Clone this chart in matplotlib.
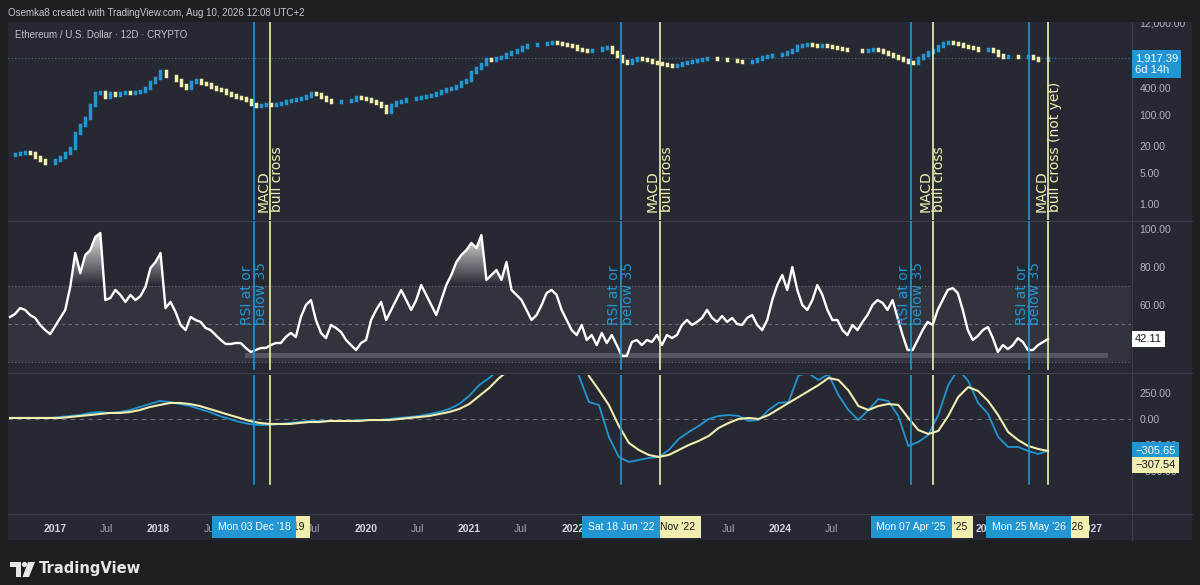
import numpy as np
import matplotlib
matplotlib.use('Agg')
import matplotlib.pyplot as plt
from matplotlib.patches import Rectangle, Polygon, Circle
from matplotlib.path import Path
from matplotlib.colors import LinearSegmentedColormap
from matplotlib.transforms import Affine2D, blended_transform_factory
from matplotlib.ticker import NullLocator, NullFormatter

W, H = 1200, 585

# ---- values: 12D ETHUSD bars, dates as fractional years ----
first_bar, last_bar = 2016.566, 2026.585

close = [12.5, 13.1, 13.8, 14.6, 13.8, 11.3, 9.6, 8.3, 8.3, 9.6,
         11.3, 13.8, 18, 39, 59, 85, 166, 309, 325, 251,
         309, 279, 309, 325, 309, 325, 342, 400, 546, 671,
         964, 744, 744, 605, 467, 400, 546, 605, 518, 492,
         421, 380, 361, 309, 279, 251, 238, 215, 175, 158,
         166, 175, 166, 175, 184, 204, 215, 227, 238, 264,
         309, 293, 251, 215, 194, 194, 204, 204, 215, 251,
         238, 227, 204, 184, 158, 116, 166, 194, 204, 227,
         227, 238, 251, 264, 279, 309, 342, 380, 400, 443,
         546, 605, 916, 1125, 1385, 1794, 1703, 1888, 1990, 2323,
         2576, 2857, 3336, 3700, 3700, 3900, 3900, 4108, 4325, 4108,
         3900, 3700, 3516, 3008, 2857, 2711, 2857, 2857, 3168, 3336,
         2576, 2095, 1617, 1459, 1703, 1888, 1794, 1703, 1535, 1459,
         1385, 1314, 1248, 1314, 1459, 1535, 1617, 1703, 1794, 1888,
         1888, 1794, 1794, 1703, 1703, 1617, 1535, 1535, 1617, 1794,
         1990, 2095, 2208, 2208, 2323, 2576, 2857, 3516, 3700, 3900,
         3700, 3516, 3700, 3516, 3336, 3168, 3008, 2857, 2857, 2857,
         2711, 2857, 3008, 2857, 2576, 2323, 2095, 1888, 1703, 1535,
         1459, 1888, 2208, 2576, 2857, 3516, 4108, 4325, 4108, 3900,
         3516, 3336, 3168, 2857, 2857, 3008, 2711, 2208, 1990, 2095,
         2095, 1990, 1990, 2095, 1888, 1703, 1703, 1917.39]

rsi = [53.7, 55.3, 58.4, 57.4, 54.7, 53.2, 49.5, 46.8, 44.7, 48.9,
       53.2, 57.4, 69.5, 87.4, 76.8, 86.3, 88.9, 95.8, 97.9, 62.6,
       63.7, 67.9, 65.3, 61.6, 65.3, 62.6, 64.7, 69.5, 79.5, 82.6,
       87.4, 58.4, 61.6, 56.3, 49.5, 46.8, 53.7, 52.1, 51.1, 47.9,
       46.8, 44.2, 41.6, 39.5, 39.5, 40.0, 40.0, 37.4, 35.3, 36.3,
       37.4, 37.4, 38.9, 40.0, 40.0, 43.2, 45.3, 43.2, 53.7, 60.0,
       62.6, 52.1, 45.3, 42.6, 49.5, 47.9, 45.8, 41.6, 38.9, 36.3,
       40.0, 41.6, 52.1, 57.4, 61.6, 52.1, 57.4, 62.6, 67.9, 62.6,
       57.4, 62.6, 70.5, 65.3, 60.0, 54.7, 62.6, 70.5, 75.8, 82.6,
       86.3, 88.9, 92.6, 90.0, 96.8, 73.2, 75.8, 78.4, 73.2, 82.6,
       67.9, 65.3, 62.6, 57.4, 52.1, 54.7, 60.0, 66.3, 67.9, 65.3,
       57.4, 52.1, 46.8, 44.2, 49.5, 41.6, 44.2, 38.9, 45.3, 40.0,
       44.2, 38.9, 33.2, 33.2, 40.5, 41.6, 38.9, 41.6, 40.5, 44.2,
       38.9, 44.2, 42.6, 44.2, 49.5, 52.1, 49.5, 51.1, 53.2, 57.4,
       53.2, 51.1, 54.2, 51.1, 53.2, 50.0, 49.5, 53.2, 54.7, 49.5,
       46.8, 52.1, 62.6, 70.5, 75.8, 67.9, 80.0, 67.9, 60.0, 57.4,
       62.6, 70.5, 65.3, 57.4, 52.1, 52.1, 46.8, 44.2, 49.5, 46.8,
       51.1, 54.7, 60.0, 62.6, 61.1, 57.4, 62.6, 53.2, 44.2, 36.3,
       36.3, 41.6, 46.8, 51.1, 49.5, 57.4, 62.6, 67.9, 68.9, 66.3,
       57.4, 46.8, 41.6, 43.7, 46.8, 48.4, 42.6, 35.3, 38.9, 36.8,
       38.9, 42.6, 40.5, 36.3, 36.3, 38.9, 40.5, 42.11]

macd = [10, 10, 10, 10, 10, 19, 29, 38, 58, 67,
        58, 67, 86, 115, 144, 173, 163, 144, 125, 96,
        67, 29, 0, -29, -48, -58, -58, -48, -38, -29,
        -19, -19, -19, -19, -19, -10, -10, -10, 0, 10,
        19, 29, 48, 67, 96, 144, 221, 326, 394, 480,
        600, 750, 850, 900, 950, 950, 850, 413, 163, 135,
        -173, -365, -413, -394, -375, -365, -298, -192, -125, -67,
        0, 29, 38, 29, -19, -10, 86, 154, 163, 420,
        440, 375, 430, 230, 86, -10, 86, 192, 173, 29,
        -260, -221, -154, 38, 326, 480, 365, 154, 48, -173,
        -269, -269, -307, -336, -305.65]

signal = [10, 10, 10, 10, 10, 10, 19, 29, 38, 48,
          58, 58, 67, 86, 115, 135, 154, 154, 144, 125,
          96, 67, 38, 10, -19, -38, -48, -48, -48, -38,
          -29, -29, -19, -19, -19, -19, -10, -10, -10, 0,
          10, 19, 29, 48, 67, 96, 144, 221, 298, 394,
          470, 600, 700, 800, 850, 880, 850, 750, 413, 278,
          134, -67, -230, -298, -346, -365, -346, -298, -250, -211,
          -163, -86, -38, 0, 10, 0, 38, 96, 154, 211,
          269, 326, 394, 375, 275, 125, 86, 125, 144, 135,
          10, -106, -144, -115, 29, 211, 307, 269, 173, 38,
          -125, -202, -259, -288, -307.54]

rsi_dates = [2018.921, 2022.463, 2025.263, 2026.397]
rsi_tags = ["Mon 03 Dec '18", "Sat 18 Jun '22", "Mon 07 Apr '25", "Mon 25 May '26"]
cross_dates = [2019.077, 2022.838, 2025.471, 2026.584]
cross_tags = ["Tue 29 Jan '19", "Thu 03 Nov '22", "Sun 22 Jun '25", "Sun 02 Aug '26"]
cross_notes = ['MACD\nbull cross', 'MACD\nbull cross', 'MACD\nbull cross',
               'MACD\nbull cross (not yet)']
zone = (2018.83, 2027.16, 32.2, 34.8)   # rectangle drawn on the RSI pane

price_ticks = [1, 5, 20, 100, 400, 12000]
price_labels = ['1.00', '5.00', '20.00', '100.00', '400.00', '12,000.00']
rsi_ticks = [60, 80, 100]
macd_ticks = [-500, -250, 0, 250]
# time-scale marks that TradingView still shows next to the date tags
time_ticks = [2017, 2017.496, 2018, 2018.496, 2019.496, 2020, 2020.496, 2021,
              2021.496, 2022, 2023.496, 2024, 2024.496, 2026, 2027]
time_labels = ['2017', 'Jul', '2018', 'Jul', 'Jul', '2020', 'Jul', '2021',
               'Jul', '2022', 'Jul', '2024', 'Jul', '2026', '2027']

# ---- colours ----
outer = '#1e1f22'
panel = '#262932'
sep = '#3a3d47'
ax_txt = '#b2b5be'
blue = '#2196d3'
cream = '#f2eeb0'
dark = '#131722'

plt.rcParams['font.family'] = ['Liberation Sans', 'DejaVu Sans']

fig = plt.figure(figsize=(W / 100, H / 100), dpi=100, facecolor=outer)
pix = Affine2D().scale(1 / W, -1 / H).translate(0, 1) + fig.transFigure


def box(x0, y0, x1, y1):
    return [x0 / W, 1 - y1 / H, (x1 - x0) / W, (y1 - y0) / H]


fig.add_artist(Rectangle((8, 22), 1184, 518, transform=pix, fc=panel, ec='none', zorder=-2))
for (xa, ya, xb, yb) in [(1131.5, 22, 1131.5, 540), (8, 221, 1192, 221),
                         (8, 372.5, 1192, 372.5), (8, 514, 1192, 514)]:
    fig.add_artist(plt.Line2D([xa, xb], [ya, yb], transform=pix, color=sep, lw=0.8, zorder=-1))

x_lo, x_hi = 2016.546, 2027.386

ax_p = fig.add_axes(box(8, 22, 1131, 220))
ax_r = fig.add_axes(box(8, 221, 1131, 370))
ax_m = fig.add_axes(box(8, 375, 1131, 513))

for ax in (ax_p, ax_r, ax_m):
    ax.set_facecolor('none')
    for s in ax.spines.values():
        s.set_visible(False)
    ax.yaxis.tick_right()
    ax.tick_params(axis='x', length=0, labelbottom=False)
    ax.tick_params(axis='y', length=0, labelsize=7.5, labelcolor=ax_txt, pad=6)

# ---- price pane ----
close = np.array(close, dtype=float)
tb = np.linspace(first_bar, last_bar, len(close))
opens = np.r_[close[0], close[:-1]]
up = close >= opens
ax_p.set_yscale('log')
ax_p.vlines(tb[up], opens[up], close[up], color=blue, lw=2.5, capstyle='projecting', zorder=3)
ax_p.vlines(tb[~up], opens[~up], close[~up], color=cream, lw=2.5, capstyle='projecting', zorder=3)
ax_p.axhline(close[-1], color='#4f6f90', lw=0.8, ls=(0, (1, 2)), zorder=1)
ax_p.set_ylim(0.432, 12170)
ax_p.yaxis.set_minor_locator(NullLocator())
ax_p.yaxis.set_minor_formatter(NullFormatter())
ax_p.set_yticks(price_ticks, price_labels)
ax_p.annotate('1,917.39\n6d 14h', xy=(1, close[-1]), xycoords=('axes fraction', 'data'),
              xytext=(4, 4), textcoords='offset pixels', ha='left', va='top', fontsize=8,
              color='white', linespacing=1.15, annotation_clip=False, zorder=10,
              bbox=dict(boxstyle='square,pad=0.3', fc=blue, ec='none'))

# ---- RSI pane ----
rsi = np.array(rsi)
ax_r.axhspan(30, 70, color='white', alpha=0.055, lw=0, zorder=0)
for lvl, st in [(70, (0, (1, 2))), (50, (0, (3, 3))), (30, (0, (1, 2)))]:
    ax_r.axhline(lvl, color='#6b6e78', lw=0.8, ls=st, zorder=1)
ax_r.add_patch(Rectangle((zone[0], zone[2]), zone[1] - zone[0], zone[3] - zone[2],
                         fc='#5d6069', ec='none', alpha=0.8, zorder=1))
hot = ax_r.fill_between(tb, 70, rsi, where=rsi > 70, interpolate=True, fc='none', ec='none')
fade = LinearSegmentedColormap.from_list('fade', [(1, 1, 1, 0.0), (1, 1, 1, 0.95)])
grad = ax_r.imshow(np.linspace(0, 1, 128).reshape(-1, 1), extent=[x_lo, x_hi, 70, 100],
                   origin='lower', aspect='auto', cmap=fade, zorder=2, interpolation='bilinear')
grad.set_clip_path(Path.make_compound_path(*hot.get_paths()), ax_r.transData)
ax_r.plot(tb, rsi, color='white', lw=1.7, solid_joinstyle='round', zorder=3)
ax_r.set_ylim(25.8, 104.2)
ax_r.set_yticks(rsi_ticks, [f'{v:.2f}' for v in rsi_ticks])
ax_r.annotate(f'{rsi[-1]:.2f}', xy=(1, rsi[-1]), xycoords=('axes fraction', 'data'),
              xytext=(4, 0), textcoords='offset pixels', ha='left', va='center', fontsize=8,
              color=dark, annotation_clip=False, zorder=10,
              bbox=dict(boxstyle='square,pad=0.3', fc='white', ec='none'))

# ---- MACD pane ----
tm = np.linspace(first_bar, last_bar, len(macd))
ax_m.axhline(0, color='#6b6e78', lw=0.8, ls=(0, (4, 4)), zorder=1)
ax_m.plot(tm, macd, color=blue, lw=1.3, zorder=3)
ax_m.plot(tm, signal, color=cream, lw=1.5, zorder=3)
ax_m.set_ylim(-904, 423)
ax_m.set_yticks(macd_ticks, [f'{v:.2f}'.replace('-', '\u2212') for v in macd_ticks])
ax_m.annotate(f'{macd[-1]:.2f}'.replace('-', '\u2212'), xy=(1, macd[-1]),
              xycoords=('axes fraction', 'data'), xytext=(4, 0), textcoords='offset pixels',
              ha='left', va='center', fontsize=8, color='white', annotation_clip=False,
              zorder=10, bbox=dict(boxstyle='square,pad=0.3', fc=blue, ec='none'))
ax_m.annotate(f'{signal[-1]:.2f}'.replace('-', '\u2212'), xy=(1, signal[-1]),
              xycoords=('axes fraction', 'data'), xytext=(4, -14), textcoords='offset pixels',
              ha='left', va='center', fontsize=8, color=dark, annotation_clip=False,
              zorder=10, bbox=dict(boxstyle='square,pad=0.3', fc=cream, ec='none'))

# time scale
ax_m.set_xticks(time_ticks, time_labels)
ax_m.tick_params(axis='x', labelbottom=True, labelsize=7.5, pad=8, labelcolor='#d1d4dc')
for lab in ax_m.get_xticklabels():
    if lab.get_text() == 'Jul':
        lab.set_color('#a3a6af')
    else:
        lab.set_fontweight('bold')

for ax in (ax_p, ax_r, ax_m):
    ax.set_xlim(x_lo, x_hi)

# ---- event lines and notes ----
for d in rsi_dates:
    ax_p.axvline(d, color=blue, lw=1.2, zorder=4)
    ax_r.axvline(d, color=blue, lw=1.2, zorder=4)
    ax_m.axvline(d, color=blue, lw=1.2, ymin=0.21, zorder=4)
for d in cross_dates:
    ax_p.axvline(d, color=cream, lw=1.2, zorder=4)
    ax_r.axvline(d, color=cream, lw=1.2, zorder=4)
    ax_m.axvline(d, color=cream, lw=1.2, ymin=0.21, zorder=4)

tp = blended_transform_factory(ax_p.transData, ax_p.transAxes)
for d, note in zip(cross_dates, cross_notes):
    ax_p.text(d, 0.04, note, transform=tp, rotation=90, ha='center', va='bottom',
              color=cream, fontsize=10, linespacing=0.95, multialignment='left',
              family='DejaVu Sans', zorder=5)
tr = blended_transform_factory(ax_r.transData, ax_r.transAxes)
for d in rsi_dates:
    ax_r.text(d, 0.30, 'RSI at or\nbelow 35', transform=tr, rotation=90, ha='center',
              va='bottom', color=blue, fontsize=10, linespacing=0.95,
              multialignment='left', family='DejaVu Sans', zorder=5)

for d, tag in zip(cross_dates, cross_tags):
    ax_m.annotate(tag, xy=(d, 0), xycoords=('data', 'axes fraction'), xytext=(0, -14),
                  textcoords='offset pixels', ha='center', va='center', fontsize=7.5,
                  color=dark, annotation_clip=False, zorder=9,
                  bbox=dict(boxstyle='square,pad=0.55', fc=cream, ec='none'))
for d, tag in zip(rsi_dates, rsi_tags):
    ax_m.annotate(tag, xy=(d, 0), xycoords=('data', 'axes fraction'), xytext=(0, -14),
                  textcoords='offset pixels', ha='center', va='center', fontsize=7.5,
                  color='white', annotation_clip=False, zorder=10,
                  bbox=dict(boxstyle='square,pad=0.55', fc=blue, ec='none'))

# ---- header, title, logo ----
fig.add_artist(Rectangle((0, 0), W, 22, transform=pix, fc=outer, ec='none', zorder=20))
fig.text(8 / W, 1 - 13 / H, 'Osemka8 created with TradingView.com, Aug 10, 2026 12:08 UTC+2',
         fontsize=7, color='#c6c8ce', va='center', zorder=21)
fig.text(15 / W, 1 - 35 / H, 'Ethereum / U.S. Dollar \u00b7 12D \u00b7 CRYPTO',
         fontsize=7, color='#c0c3ca', va='center', zorder=21)

fig.add_artist(Polygon([(10, 562), (21, 562), (21, 577), (16, 577), (16, 567), (10, 567)],
                       closed=True, transform=pix, fc='#e6e6e6', ec='none'))
fig.add_artist(Circle((24.5, 564.5), 2.6, transform=pix, fc='#e6e6e6', ec='none'))
fig.add_artist(Polygon([(28, 562), (35, 562), (29, 577), (22.5, 577)], closed=True,
                       transform=pix, fc='#e6e6e6', ec='none'))
fig.text(39 / W, 1 - 569 / H, 'TradingView', fontsize=10.6, fontweight='bold',
         family='DejaVu Sans', color='#e6e6e6', va='center')

fig.savefig('out.png', dpi=100, facecolor=outer)
